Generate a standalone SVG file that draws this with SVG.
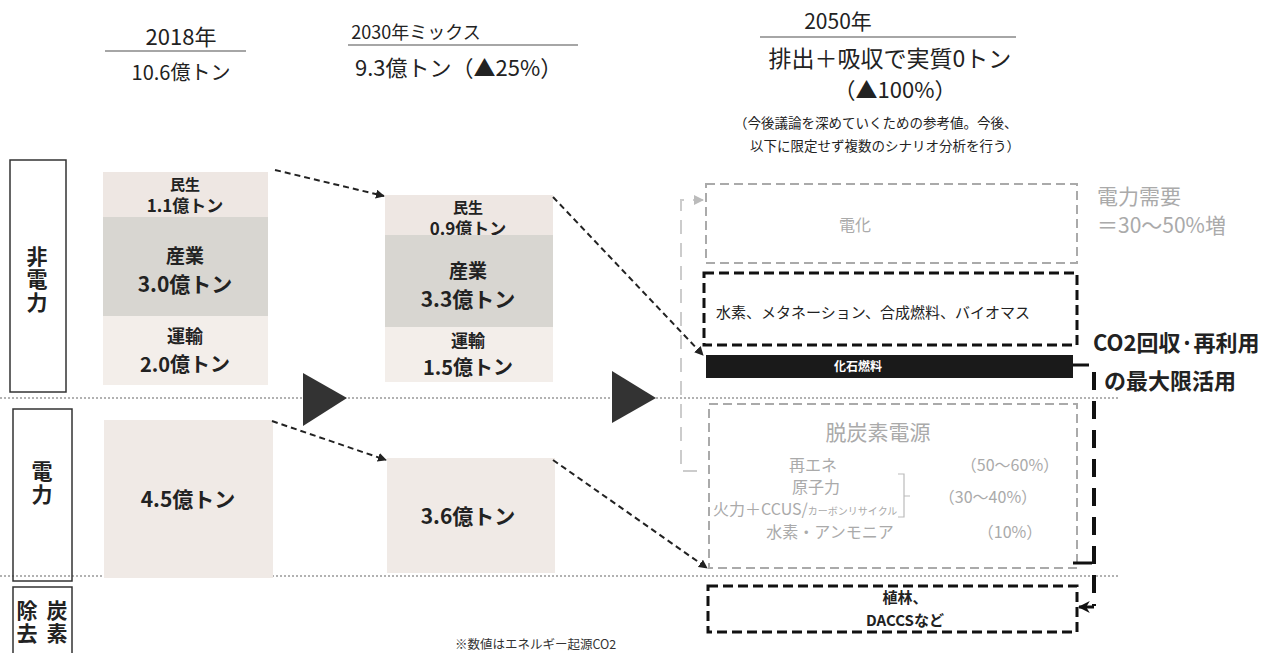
<svg xmlns="http://www.w3.org/2000/svg" width="1284" height="653" viewBox="0 0 1284 653">
<style>
text{font-family:"Noto Sans CJK JP","Noto Sans",sans-serif;fill:#222}
.h{font-size:20px;text-anchor:middle}
.b{font-weight:bold;text-anchor:middle}
.g{fill:#aaa}
.lbl{font-size:21px;font-weight:bold;writing-mode:vertical-rl;letter-spacing:2px}
.sect{fill:none;stroke:#333;stroke-width:1.5}
.dot{stroke:#999;stroke-width:1.5;stroke-dasharray:2 2}
.dash{fill:none;stroke:#222;stroke-width:2;stroke-dasharray:6 4}
.gbox{fill:none;stroke:#aaa;stroke-width:2;stroke-dasharray:9 5}
.kbox{fill:none;stroke:#111;stroke-width:3;stroke-dasharray:10 5}
.s16{font-size:16px}
</style>
<defs>
<marker id="ah" viewBox="0 0 10 10" refX="9" refY="5" markerWidth="9" markerHeight="9" markerUnits="userSpaceOnUse" orient="auto">
<path d="M0,0 L10,5 L0,10 z" fill="#222"/>
</marker>
<marker id="ag" viewBox="0 0 10 10" refX="9" refY="5" markerWidth="10" markerHeight="10" markerUnits="userSpaceOnUse" orient="auto">
<path d="M0,0 L10,5 L0,10 z" fill="#bbb"/>
</marker>
<marker id="ak" viewBox="0 0 10 10" refX="9" refY="5" markerWidth="12" markerHeight="12" markerUnits="userSpaceOnUse" orient="auto">
<path d="M0,0 L10,5 L0,10 L3,5 z" fill="#111"/>
</marker>
</defs>
<rect width="1284" height="653" fill="#fff"/>

<g id="headers">
<text class="h" x="181" y="45" style="font-size:22px">2018年</text>
<line x1="105" y1="51" x2="246" y2="51" stroke="#888" stroke-width="1.5"/>
<text class="h" x="181" y="80">10.6億トン</text>
<text class="h" x="416" y="39" style="font-size:18px">2030年ミックス</text>
<line x1="348" y1="45" x2="578" y2="45" stroke="#888" stroke-width="1.5"/>
<text x="355" y="76" style="font-size:22px">9.3億トン（▲25%）</text>
<text class="h" x="838" y="29" style="font-size:21px">2050年</text>
<line x1="760" y1="37" x2="1016" y2="37" stroke="#888" stroke-width="1.5"/>
<text x="890" y="67" style="font-size:23px;text-anchor:middle">排出＋吸収で実質0トン</text>
<text x="895" y="98" style="font-size:22px;text-anchor:middle">（▲100%）</text>
<text style="font-size:13.5px"><tspan x="734" y="128">（今後議論を深めていくための参考値。今後、</tspan><tspan x="750" y="151">以下に限定せず複数のシナリオ分析を行う）</tspan></text>
</g>

<g id="sections">
<line class="dot" x1="0" y1="398" x2="1120" y2="398"/>
<line class="dot" x1="0" y1="576" x2="1120" y2="576"/>
<g id="sec-hidenryoku">
<rect class="sect" x="10" y="160" width="56" height="232"/>
<text class="lbl" x="37" y="246">非電力</text>
</g>
<g id="sec-denryoku">
<rect class="sect" x="13" y="409" width="59" height="172"/>
<text class="lbl" x="42" y="461">電力</text>
</g>
<g id="sec-tanso">
<rect class="sect" x="13" y="587" width="59" height="70"/>
<text class="lbl" x="57" y="600">炭素</text>
<text class="lbl" x="27" y="600">除去</text>
</g>
</g>

<g id="col2018">
<g id="n2018-minsei">
<rect x="103" y="172" width="165" height="45" fill="#eee7e3"/>
<text class="b"><tspan x="185" y="190" style="font-size:15px">民生</tspan><tspan x="185" y="212" style="font-size:17px">1.1億トン</tspan></text>
</g>
<g id="n2018-sangyo">
<rect x="103" y="217" width="165" height="99" fill="#d8d6d1"/>
<text class="b"><tspan x="185" y="263" style="font-size:19px">産業</tspan><tspan x="185" y="292" style="font-size:21px">3.0億トン</tspan></text>
</g>
<g id="n2018-unyu">
<rect x="103" y="316" width="165" height="69" fill="#f3eeea"/>
<text class="b"><tspan x="185" y="343" style="font-size:18px">運輸</tspan><tspan x="185" y="372" style="font-size:20px">2.0億トン</tspan></text>
</g>
<g id="n2018-denryoku">
<rect x="104" y="420" width="169" height="158" fill="#f0eae6"/>
<text class="b" x="188" y="507" style="font-size:21px">4.5億トン</text>
</g>
</g>

<g id="col2030">
<g id="n2030-minsei">
<rect x="385" y="195" width="168" height="40" fill="#eee7e3"/>
<text class="b"><tspan x="468" y="213" style="font-size:15px">民生</tspan><tspan x="468" y="235" style="font-size:17px">0.9億トン</tspan></text>
</g>
<g id="n2030-sangyo">
<rect x="385" y="235" width="168" height="92" fill="#d8d6d1"/>
<text class="b"><tspan x="468" y="278" style="font-size:19px">産業</tspan><tspan x="468" y="307" style="font-size:21px">3.3億トン</tspan></text>
</g>
<g id="n2030-unyu">
<rect x="385" y="327" width="168" height="55" fill="#f3eeea"/>
<text class="b"><tspan x="468" y="347" style="font-size:17px">運輸</tspan><tspan x="468" y="375" style="font-size:20px">1.5億トン</tspan></text>
</g>
<g id="n2030-denryoku">
<rect x="387" y="458" width="168" height="115" fill="#f0eae6"/>
<text class="b" x="468" y="524" style="font-size:21px">3.6億トン</text>
</g>
</g>

<g id="arrows-big">
<path d="M303,373 L347,398 L303,426 z" fill="#333"/>
<path d="M612,371 L656,398 L612,423 z" fill="#333"/>
</g>

<g id="col2050">
<g id="n-denka">
<rect class="gbox" x="706" y="184" width="371" height="79"/>
<text x="855" y="231" style="font-size:16px;text-anchor:middle" class="g">電化</text>
</g>
<g id="n-suiso">
<rect class="kbox" x="704" y="273" width="373" height="72"/>
<text x="873" y="318" style="font-size:15px;text-anchor:middle">水素、メタネーション、合成燃料、バイオマス</text>
</g>
<g id="n-kaseki">
<rect x="706" y="355" width="367" height="23" fill="#1a1a1a"/>
<text x="858" y="371" style="font-size:12px;text-anchor:middle;fill:#fff;font-weight:bold">化石燃料</text>
</g>
<g id="n-demand">
<text style="font-size:21px" class="g"><tspan x="1097" y="204">電力需要</tspan><tspan x="1097" y="233">＝30〜50%増</tspan></text>
</g>
<g id="n-co2">
<text style="font-size:22px;font-weight:bold"><tspan x="1093" y="351">CO2回収·再利用</tspan><tspan x="1104" y="389">の最大限活用</tspan></text>
</g>
<g id="n-datsutanso">
<rect class="gbox" x="709" y="404" width="368" height="164"/>
<text x="878" y="440" style="font-size:21px;text-anchor:middle" class="g">脱炭素電源</text>
<text class="g s16" style="text-anchor:middle"><tspan x="813" y="471">再エネ</tspan><tspan x="816" y="493">原子力</tspan></text>
<text x="1010" y="471" style="text-anchor:middle" class="g s16">（50〜60%）</text>
<text x="713" y="515" class="g s16">火力＋CCUS/<tspan style="font-size:10px">カーボンリサイクル</tspan></text>
<path d="M898,474 H904 V517 H898 M904,496 H910" fill="none" stroke="#bbb" stroke-width="1.2"/>
<text x="988" y="503" style="text-anchor:middle" class="g s16">（30〜40%）</text>
<text x="830" y="538" style="text-anchor:middle" class="g s16">水素・アンモニア</text>
<text x="1010" y="538" style="text-anchor:middle" class="g s16">（10%）</text>
</g>
<g id="n-shokurin">
<rect class="kbox" x="708" y="586" width="369" height="46"/>
<text style="font-size:15px;font-weight:bold;text-anchor:middle"><tspan x="905" y="603">植林、</tspan><tspan x="905" y="626">DACCSなど</tspan></text>
</g>
</g>

<g id="connectors">
<line class="dash" x1="275" y1="170" x2="384" y2="196" marker-end="url(#ah)"/>
<line class="dash" x1="553" y1="197" x2="703" y2="355" marker-end="url(#ah)"/>
<line class="dash" x1="272" y1="421" x2="386" y2="460" marker-end="url(#ah)"/>
<line class="dash" x1="553" y1="460" x2="707" y2="568" marker-end="url(#ah)"/>
<path d="M697,471 H681 V200 H703" fill="none" stroke="#ccc" stroke-width="2" stroke-dasharray="14 9" marker-end="url(#ag)"/>
<line x1="1073" y1="365" x2="1089" y2="365" stroke="#111" stroke-width="3"/>
<line x1="1094" y1="372" x2="1094" y2="606" stroke="#111" stroke-width="4" stroke-dasharray="18 11"/>
<line x1="1073" y1="563" x2="1092" y2="563" stroke="#111" stroke-width="3"/>
<line x1="1094" y1="607" x2="1079" y2="607" stroke="#111" stroke-width="3" marker-end="url(#ak)"/>
</g>

<text x="455" y="649" style="font-size:12.5px;fill:#333">※数値はエネルギー起源CO2</text>
</svg>
